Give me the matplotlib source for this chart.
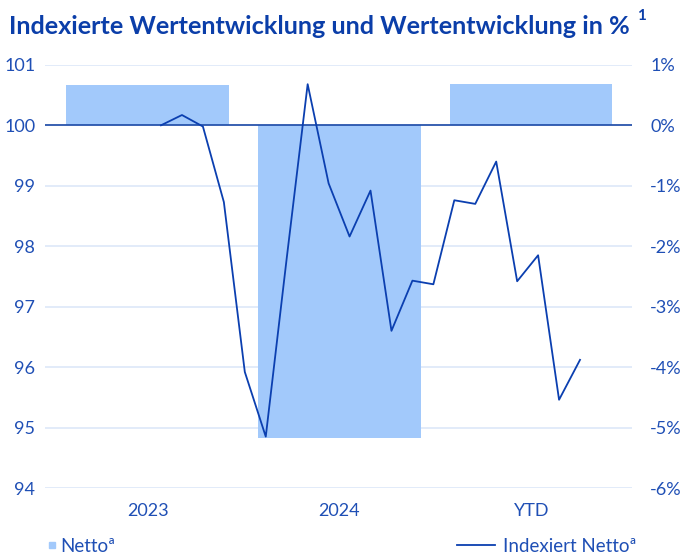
import matplotlib
matplotlib.use("Agg")
import matplotlib.pyplot as plt
from matplotlib.lines import Line2D

plt.rcParams['font.family'] = ['Lato', 'DejaVu Sans']

# data
categories = ["2023", "2024", "YTD"]
netto_pct = [0.67, -5.17, 0.68]
indexiert = [100.0, 100.17, 99.98, 98.73, 95.92, 94.85, 97.8, 100.68, 99.04,
             98.16, 98.92, 96.60, 97.43, 97.37, 98.76, 98.70, 99.40, 97.42,
             97.85, 95.46, 96.12]
left_ticks = [94, 95, 96, 97, 98, 99, 100, 101]
right_ticks = [-6, -5, -4, -3, -2, -1, 0, 1]
right_labels = ["-6%", "-5%", "-4%", "-3%", "-2%", "-1%", "0%", "1%"]

bar_col = "#a2c9fb"
line_col = "#0b3fb0"
text_col = "#1f4fb5"
grid_col = "#dfe9f9"

fig = plt.figure(figsize=(6.81, 5.59), dpi=100)
ax = fig.add_axes([0.066, 0.127, 0.862, 0.757])

# bars in percent
x = range(len(categories))
ax.bar(x, netto_pct, width=0.846, color=bar_col, zorder=2)
ax.set_xlim(-0.535, 2.525)
ax.set_ylim(-6, 1)
ax.set_xticks(list(x))
ax.set_xticklabels(categories)
ax.tick_params(axis="x", length=0, pad=11, labelsize=13, labelcolor=text_col)
ax.grid(axis="y", color=grid_col, linewidth=1.3, zorder=0)
ax.set_axisbelow(True)
ax.axhline(0, color="#1c4aa6", linewidth=1.2, zorder=3)
for s in ax.spines.values():
    s.set_visible(False)

# index axis on the left
axl = ax.twinx()
axl.set_ylim(94, 101)
axl.set_yticks(left_ticks)
axl.yaxis.tick_left()
axl.tick_params(axis="y", length=0, pad=7, labelsize=13, labelcolor=text_col)
for s in axl.spines.values():
    s.set_visible(False)

# percent labels on the right
ax.yaxis.tick_right()
ax.set_yticks(right_ticks)
ax.set_yticklabels(right_labels)
ax.tick_params(axis="y", length=0, pad=13, labelsize=13, labelcolor=text_col)

# line on its own x scale
axt = axl.twiny()
axt.plot(range(len(indexiert)), indexiert, color=line_col, linewidth=1.3)
axt.set_xlim(-5.54, 22.48)
axt.set_xticks([])
for s in axt.spines.values():
    s.set_visible(False)

fig.text(0.013, 0.94, "Indexierte Wertentwicklung und Wertentwicklung in %",
         fontsize=18.2, fontweight="bold", color="#0b3ea9")
fig.text(0.936, 0.964, "1", fontsize=11, fontweight="bold", color="#0b3ea9")

h1 = [Line2D([], [], marker="s", linestyle="", markersize=5, color=bar_col)]
leg1 = fig.legend(h1, ["Nettoª"], loc="center left", bbox_to_anchor=(0.043, 0.023),
                  frameon=False, fontsize=13.5, handlelength=0.6, handletextpad=0.15,
                  labelcolor=text_col)
h2 = [Line2D([], [], color=line_col, linewidth=1.3)]
fig.legend(h2, ["Indexiert Nettoª"], loc="center left", bbox_to_anchor=(0.647, 0.023),
           frameon=False, fontsize=13.5, handlelength=2.0, handletextpad=0.45,
           labelcolor=text_col)

fig.savefig("out.png", dpi=100)
